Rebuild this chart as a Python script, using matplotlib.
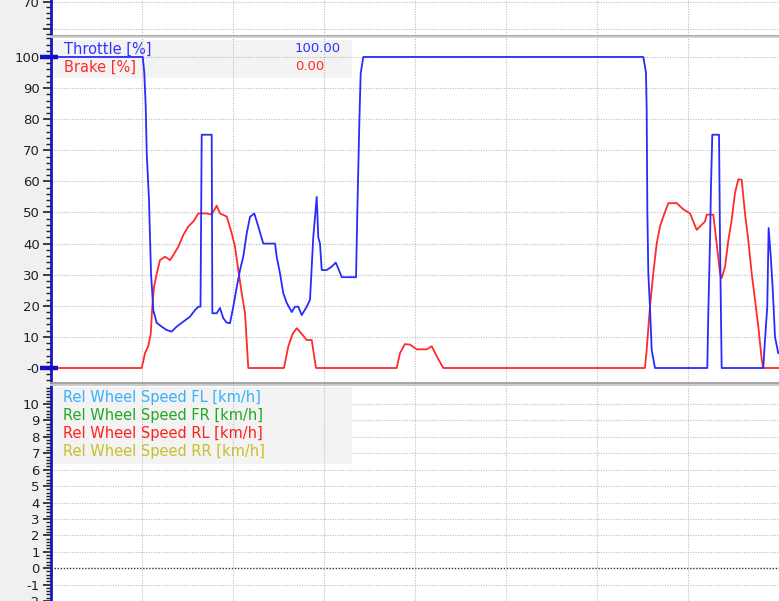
import matplotlib
matplotlib.use("Agg")
import matplotlib.pyplot as plt
from matplotlib.lines import Line2D
from matplotlib.patches import Rectangle
from matplotlib.ticker import MultipleLocator, FixedLocator
import matplotlib.transforms as mtransforms

# ---------------- data ----------------
throttle_dist = [0, 100.8, 102.5, 104.1, 105.2, 107.7, 108.8, 109.9, 111.3, 112.4, 116.2, 121.6,
                 127.1, 132.6, 138.1, 145.4, 152.7, 158.2, 161.9, 164.3, 165.6, 176.6, 177.3,
                 182.1, 185.7, 189.3, 193.1, 196.7, 200.3, 204.1, 207.7, 211.3, 215.1, 218.7,
                 223.4, 227.8, 233.3, 246.2, 248.0, 251.6, 255.3, 259.0, 264.5, 268.1, 271.8,
                 275.5, 281.0, 284.6, 288.2, 292.0, 293.7, 295.6, 297.5, 303.0, 308.5, 312.9,
                 315.7, 319.5, 335.2, 336.6, 338.8, 340.3, 343.2, 650.9, 653.8, 654.6, 655.3,
                 656.4, 658.2, 660.1, 663.7, 721.2, 722.3, 724.2, 725.3, 726.7, 734.1, 735.2,
                 737.0, 782.7, 784.6, 787.1, 788.6, 790.9, 793.0, 795.6, 799.2]
throttle_pct = [100, 100, 95, 84, 69, 54, 42, 30.5, 24, 18.6, 14.5, 13.3,
                12.2, 11.7, 13.3, 14.9, 16.5, 18.6, 19.7, 19.7, 75, 75, 17.6,
                17.6, 19.3, 16, 14.6, 14.4, 19.7, 26, 31.5, 35.8, 43.3, 48.6,
                49.7, 45.5, 40, 40, 35.8, 30.5, 24, 21, 18, 19.7, 19.7,
                17, 19.7, 21.9, 42, 55, 42, 40, 31.5, 31.5, 32.6, 33.9,
                32, 29.2, 29.2, 49.7, 78.7, 94.7, 100, 100, 95, 83, 51,
                30.4, 19.7, 5.8, 0, 0, 17.6, 41, 59, 75, 75, 40,
                0, 0, 9, 19.7, 45, 36, 26, 10, 4.8]

brake_dist = [0, 99.7, 103.3, 106.9, 109.6, 111.3, 113.2, 116.2, 119.8, 125.3, 130.8, 134.4,
              139.9, 145.4, 150.9, 156.4, 161.9, 171.1, 176.6, 182.1, 185.7, 193.1, 198.6,
              202.2, 205.8, 209.6, 213.2, 216.8, 256.0, 260.8, 265.6, 270.0, 275.5, 281.0,
              286.5, 291.2, 379.9, 383.5, 389.0, 394.5, 401.9, 412.9, 418.4, 423.8, 431.1,
              652.7, 654.6, 658.2, 661.8, 665.6, 669.2, 672.9, 678.4, 687.6, 694.9, 702.2,
              709.6, 713.2, 718.7, 720.6, 727.8, 731.5, 735.2, 737.0, 740.7, 744.3, 748.0,
              751.6, 755.3, 759.0, 762.6, 766.3, 770.0, 773.6, 777.3, 781.0, 782.7, 800]
brake_pct = [0, 0, 4.8, 7, 11, 19.7, 26, 30.4, 34.7, 35.8, 34.7, 36.3,
             39, 42.8, 45.5, 47.1, 49.7, 49.7, 49.3, 52.2, 49.7, 48.7, 43.3,
             39, 31.5, 24, 17.6, 0, 0, 7, 11, 12.8, 11, 9,
             9, 0, 0, 4.8, 7.7, 7.5, 6, 6, 7, 3.8, 0,
             0, 5.9, 19.7, 30.4, 40, 45.5, 48.7, 53, 53, 51, 49.7,
             44.4, 45.5, 47.1, 49.3, 49.3, 40, 30.4, 28.9, 32.6, 41, 47.6,
             56.2, 60.7, 60.5, 49.7, 41, 30.4, 21.9, 13.3, 2.7, 0, 0]

mid_labels = ["Throttle [%]", "Brake [%]"]
mid_values = ["100.00", "0.00"]
mid_colors = ["#3333ff", "#ff2a2a"]
wheel_labels = ["Rel Wheel Speed FL [km/h]", "Rel Wheel Speed FR [km/h]",
                "Rel Wheel Speed RL [km/h]", "Rel Wheel Speed RR [km/h]"]
wheel_colors = ["#38b0ff", "#22a822", "#ff2020", "#c8bf2a"]

# ---------------- layout ----------------
W, H = 779, 601
fig = plt.figure(figsize=(W / 100, H / 100), dpi=100, facecolor="#f0f0f0")
plt.rcParams["font.family"] = ["DejaVu Sans"]

X0 = 51
AXW = W - X0


def add_ax(ytop, ybot):
    return fig.add_axes([X0 / W, (H - ybot) / H, AXW / W, (ybot - ytop) / H])


ax_top = add_ax(0, 35)
ax_mid = add_ax(38, 382)
ax_bot = add_ax(386, 601)

axis_blue = "#1818c0"
grid_kw = dict(color="#bdbdbd", linestyle=(0, (1.0, 1.3)), linewidth=0.8)

for ax in (ax_top, ax_mid, ax_bot):
    ax.set_facecolor("white")
    ax.set_xlim(0, 800)
    for s in ("top", "right", "bottom"):
        ax.spines[s].set_visible(False)
    ax.spines["left"].set_color(axis_blue)
    ax.spines["left"].set_linewidth(2.0)
    ax.tick_params(axis="x", which="both", bottom=False, labelbottom=False)
    ax.tick_params(axis="y", which="major", length=6, width=1.2, color="#202020",
                   labelsize=9.5, labelcolor="#202020", pad=2)
    ax.tick_params(axis="y", which="minor", length=3.5, width=1.0, color="#202020")
    for xv in range(100, 800, 100):
        ax.axvline(xv, zorder=3, **grid_kw)

# top panel
ax_top.set_ylim(57.8, 70.74)
ax_top.yaxis.set_major_locator(FixedLocator([60, 70]))
ax_top.set_yticklabels(["", "70"])
ax_top.yaxis.set_minor_locator(MultipleLocator(2))
for yv in (60, 70):
    ax_top.axhline(yv, zorder=1, **grid_kw)

# middle panel
ax_mid.set_ylim(-4.5, 106.1)
ax_mid.yaxis.set_major_locator(FixedLocator(list(range(0, 101, 10))))
ax_mid.set_yticklabels(["-0"] + [str(v) for v in range(10, 101, 10)])
ax_mid.yaxis.set_minor_locator(MultipleLocator(2))
for yv in range(10, 101, 10):
    ax_mid.axhline(yv, zorder=1, **grid_kw)

ax_mid.add_patch(Rectangle((0, (368 - 78) / 3.11), (352 - X0) / 0.91, (78 - 40) / 3.11,
                           facecolor="#f3f3f3", edgecolor="none", zorder=0.5))

ax_mid.plot(brake_dist, brake_pct, color="#ff2a2a", linewidth=1.3, zorder=5)
ax_mid.plot(throttle_dist, throttle_pct, color="#2a2aff", linewidth=1.3, zorder=6)

ys_px = [49, 67]
for lab, val, col, ypx in zip(mid_labels, mid_values, mid_colors, ys_px):
    yd = (368 - ypx) / 3.11
    ax_mid.text((64 - X0) / 0.91, yd, lab, color=col, fontsize=10.5, va="center", ha="left", zorder=8)
    ax_mid.text((295 - X0) / 0.91, yd, val, color=col, fontsize=9.5, va="center", ha="left", zorder=8)

# cursor markers on the axis
trans = mtransforms.blended_transform_factory(ax_mid.transAxes, ax_mid.transData)
for yv in (100, 0):
    ax_mid.plot([(40 - X0) / AXW, (58 - X0) / AXW], [yv, yv], color="#1010c8",
                linewidth=3.2, transform=trans, clip_on=False, zorder=10,
                solid_capstyle="butt")

# bottom panel
ax_bot.set_ylim(-2.0, 11.1)
ax_bot.yaxis.set_major_locator(FixedLocator(list(range(-2, 11))))
ax_bot.set_yticklabels([str(v) for v in range(-2, 11)])
ax_bot.yaxis.set_minor_locator(MultipleLocator(0.2))
for yv in range(-2, 11):
    if yv == 0:
        ax_bot.axhline(0, color="#303030", linestyle=(0, (1.0, 1.2)), linewidth=1.0, zorder=1)
    else:
        ax_bot.axhline(yv, zorder=1, **grid_kw)

ax_bot.add_patch(Rectangle((0, (568 - 464) / 16.4), (352 - X0) / 0.91, (464 - 387) / 16.4,
                           facecolor="#f3f3f3", edgecolor="none", zorder=2))
for i, (lab, col) in enumerate(zip(wheel_labels, wheel_colors)):
    ypx = 397 + 18 * i
    ax_bot.text((63 - X0) / 0.91, (568 - ypx) / 16.4, lab, color=col, fontsize=10.5,
                va="center", ha="left", zorder=8)

# panel separators
for yp, c in ((35.5, "#a0a0a0"), (37.0, "#d0d0d0"), (383.0, "#a0a0a0"), (384.8, "#c8c8c8")):
    fig.add_artist(Line2D([X0 / W, 1], [(H - yp) / H, (H - yp) / H], color=c,
                          linewidth=1.3, transform=fig.transFigure))

fig.savefig("out.png", dpi=100, facecolor=fig.get_facecolor())
